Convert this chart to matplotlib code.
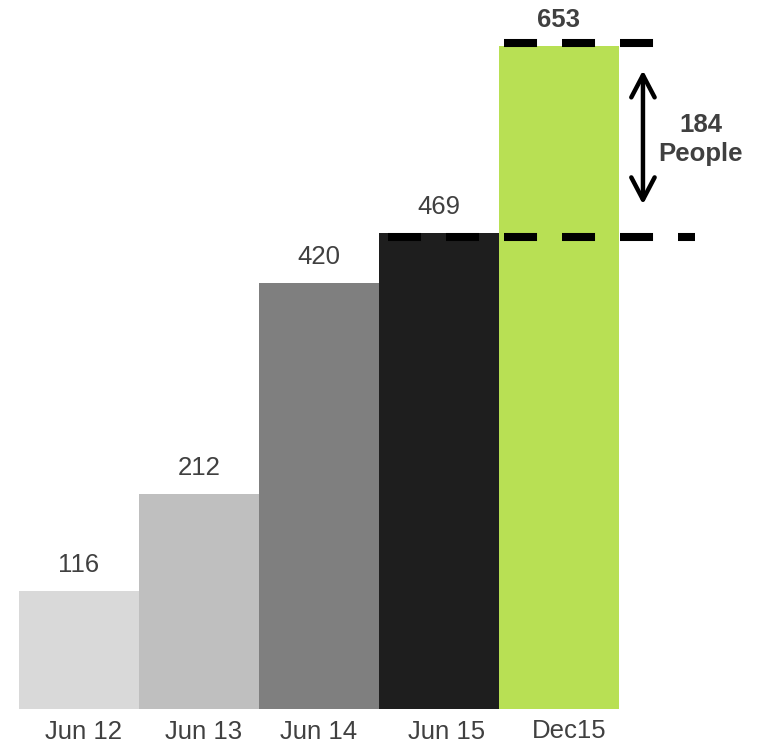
import matplotlib
matplotlib.use("Agg")
import matplotlib.pyplot as plt

categories = ["Jun 12", "Jun 13", "Jun 14", "Jun 15", "Dec15"]
values = [116, 212, 420, 469, 653]
colors = ["#D9D9D9", "#BFBFBF", "#7F7F7F", "#1E1E1E", "#B8E054"]
diff_label = "184\nPeople"

plt.rcParams["font.family"] = ["Liberation Sans", "DejaVu Sans"]
TXT = "#404040"

fig = plt.figure(figsize=(7.59, 7.43), dpi=100)
ax = fig.add_axes([0, 0, 1, 1])
ax.set_xlim(-0.658, 5.667)
ax.set_ylim(-33.5, 698.3)
ax.axis("off")

x = list(range(len(categories)))
ax.bar(x, values, width=1.0, color=colors, linewidth=0)

for i, v in enumerate(values):
    ax.annotate(str(v), xy=(i, v), xytext=(0, 18.7), textcoords="offset points",
                ha="center", va="center", fontsize=18.5, color=TXT,
                fontweight="bold" if i == len(values) - 1 else "normal")

label_dx = [0.035, 0.035, 0.0, 0.06, 0.085]
label_dy = [-16.5, -16.5, -16.5, -16.5, -15.5]
for i, c in enumerate(categories):
    ax.annotate(c, xy=(i + label_dx[i], 0), xytext=(0, label_dy[i]), textcoords="offset points",
                ha="center", va="center", fontsize=18.5, color=TXT)

# dashed reference lines
lw = 5.8
dash = (4.1, 3.1)
l1, = ax.plot([3.542, 4.792], [values[4] + 3, values[4] + 3], color="black",
              lw=lw, solid_capstyle="butt", dash_capstyle="butt")
l1.set_dashes(dash)
l2, = ax.plot([2.575, 5.133], [values[3] - 4, values[3] - 4], color="black",
              lw=lw, solid_capstyle="butt", dash_capstyle="butt")
l2.set_dashes(dash)

# double arrow
ax.annotate("", xy=(4.7, values[4] - 24), xytext=(4.7, values[3] + 28),
            arrowprops=dict(arrowstyle="<->,head_length=0.8,head_width=0.42",
                            lw=3.2, color="black", mutation_scale=20,
                            shrinkA=0, shrinkB=0))

ax.text(5.18, 561, diff_label, ha="center", va="center", fontsize=18.5,
        fontweight="bold", color=TXT, linespacing=1.3)

fig.savefig("out.png", dpi=100)
